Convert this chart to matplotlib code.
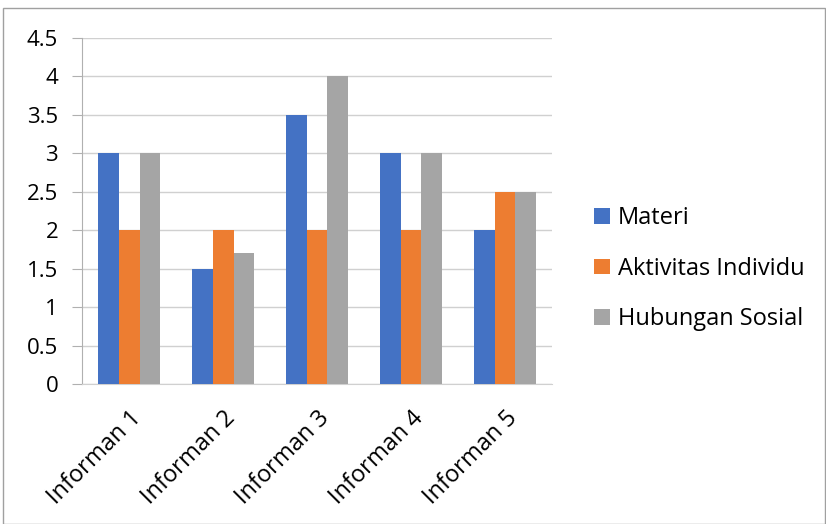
import numpy as np
import matplotlib.pyplot as plt
from matplotlib.patches import Rectangle

plt.rcParams['font.family'] = ['Open Sans', 'DejaVu Sans']

categories = ['Informan 1', 'Informan 2', 'Informan 3', 'Informan 4', 'Informan 5']
materi = [3, 1.5, 3.5, 3, 2]
aktivitas = [2, 2, 2, 2, 2.5]
hubungan = [3, 1.7, 4, 3, 2.5]
series_names = ['Materi', 'Aktivitas Individu', 'Hubungan Sosial']
colors = ['#4472c4', '#ed7d31', '#a5a5a5']

fig = plt.figure(figsize=(8.26, 5.24), dpi=100)
fig.patches.append(Rectangle((0.004, 0.0), 0.995, 0.985, transform=fig.transFigure,
                             fill=False, edgecolor='#a0a0a0', linewidth=1))
ax = fig.add_axes([0.0993, 0.267, 0.569, 0.6605])

x = np.arange(len(categories))
w = 0.223
for i, (vals, name, c) in enumerate(zip([materi, aktivitas, hubungan], series_names, colors)):
    ax.bar(x + (i - 1) * w, vals, w, color=c, label=name, zorder=3)

ax.set_xlim(-0.5, len(categories) - 0.5)
ax.set_ylim(0, 4.5)
ax.set_yticks(np.arange(0, 4.51, 0.5))
ax.set_yticklabels(['0', '0.5', '1', '1.5', '2', '2.5', '3', '3.5', '4', '4.5'])
ax.set_xticks(x)
ax.set_xticklabels(categories, rotation=45, ha='right', va='top', rotation_mode='anchor')
ax.tick_params(axis='y', length=7.2, color='#b0b0b0', labelsize=16, pad=10)
ax.tick_params(axis='x', length=0, labelsize=17, pad=16)
ax.yaxis.grid(True, color='#d0d0d0', linewidth=1, zorder=0)
for s in ['top', 'right']:
    ax.spines[s].set_visible(False)
ax.spines['bottom'].set_color('#d0d0d0')
ax.spines['left'].set_color('#b0b0b0')

fig.legend(loc='center left', bbox_to_anchor=(0.694, 0.487), frameon=False, fontsize=17,
           handlelength=0.64, handleheight=0.64, labelspacing=1.12, handletextpad=0.35)

fig.savefig('out.png', dpi=100)
